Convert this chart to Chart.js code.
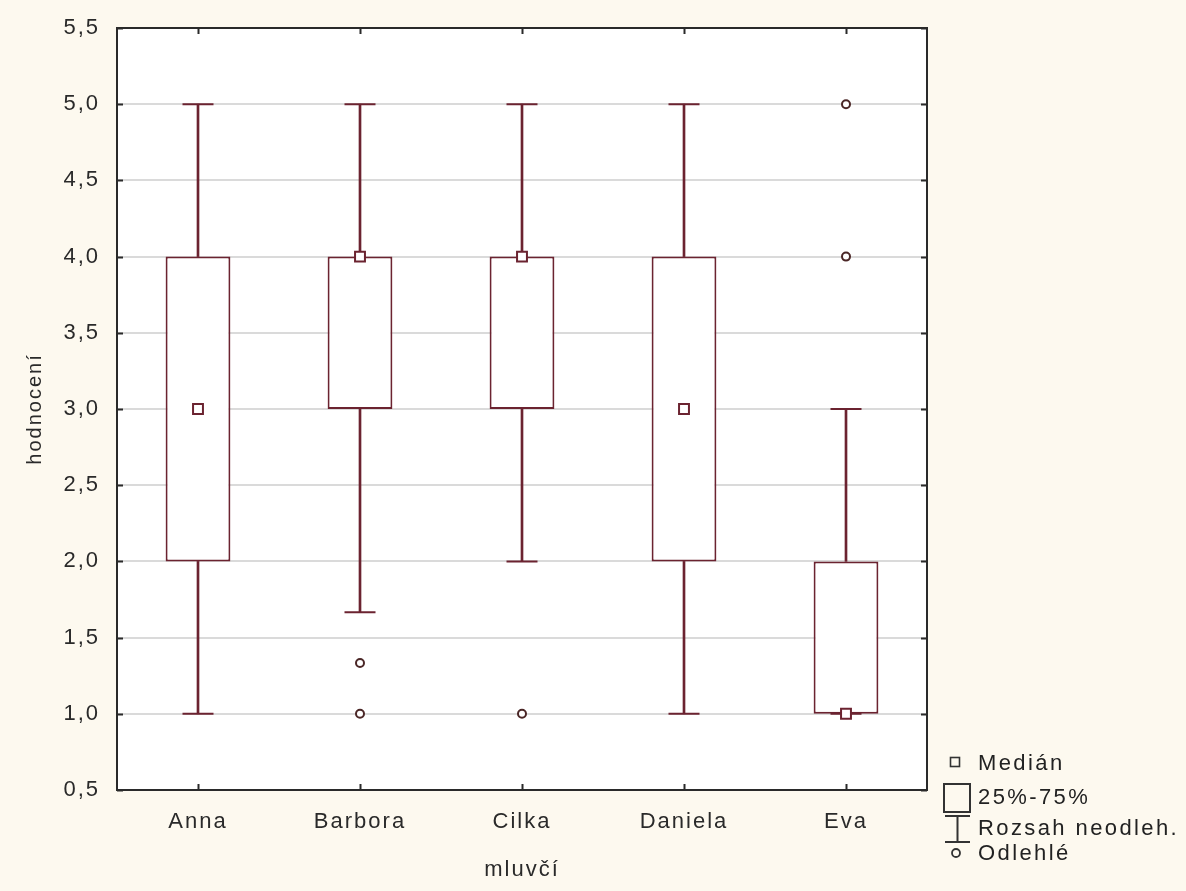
<!DOCTYPE html>
<html lang="cs">
<head>
<meta charset="UTF-8">
<title>hodnocení podle mluvčího</title>
<script src="https://cdn.jsdelivr.net/npm/chart.js"></script>
<style>
    body { margin: 0; background: #fdf9ef; }
    .wrap { position: relative; width: 1186px; height: 891px; }
    .legend span {
        position: absolute; left: 978px; height: 26px; line-height: 26px;
        font-family: "Liberation Sans", Arial, sans-serif; font-size: 22px;
        color: #222; letter-spacing: 2.4px; white-space: nowrap;
    }
    .legend svg { position: absolute; left: 940px; top: 745px; }
</style>
</head>
<body>
<div class="wrap">
    <canvas id="chart"></canvas>
    <div class="legend">
        <svg width="40" height="120">
            <rect x="10.5" y="12.5" width="9" height="9" fill="none" stroke="#333" stroke-width="1.6"/>
            <rect x="4" y="39" width="26" height="28" fill="none" stroke="#333" stroke-width="2"/>
            <path d="M5 71 H30 M17.5 71 V97 M5 97 H30" fill="none" stroke="#333" stroke-width="2"/>
            <circle cx="16" cy="108" r="4" fill="none" stroke="#333" stroke-width="1.8"/>
        </svg>
        <span style="top:750px">Medián</span>
        <span style="top:784px">25%-75%</span>
        <span style="top:815px">Rozsah neodleh.</span>
        <span style="top:840px">Odlehlé</span>
    </div>
</div>
<script>
    // data
    const categories = ['Anna', 'Barbora', 'Cilka', 'Daniela', 'Eva'];
    const whiskerLow = [1, 1.667, 2, 1, 1];
    const q1 = [2, 3, 3, 2, 1];
    const median = [3, 4, 4, 3, 1];
    const q3 = [4, 4, 4, 4, 2];
    const whiskerHigh = [5, 5, 5, 5, 3];
    const outliers = [[], [1.333, 1], [1], [], [4, 5]];
    const yTicks = [0.5, 1, 1.5, 2, 2.5, 3, 3.5, 4, 4.5, 5, 5.5];

    const boxColor = '#6b2330';
    const font = { family: '"Liberation Sans", Arial, sans-serif', size: 22 };
    const yTickFont = { family: '"Liberation Sans", Arial, sans-serif', size: 22, lineHeight: 1 };
    const titleFont = { family: '"Liberation Sans", Arial, sans-serif', size: 20 };

    const outlierPoints = [];
    outliers.forEach((vals, i) => vals.forEach(v => outlierPoints.push({ x: categories[i], y: v })));
    const capPoints = [];
    categories.forEach((c, i) => {
        capPoints.push({ x: c, y: whiskerLow[i] });
        capPoints.push({ x: c, y: whiskerHigh[i] });
    });

    // the original uses widely spaced lettering
    const spacingPlugin = {
        id: 'spacing',
        beforeUpdate(chart) { chart.ctx.letterSpacing = '2px'; },
        beforeDraw(chart) { chart.ctx.letterSpacing = '2px'; }
    };

    // white plot area + dark frame with inward ticks
    const framePlugin = {
        id: 'frame',
        beforeDraw(chart) {
            const a = chart.chartArea, ctx = chart.ctx;
            ctx.save();
            ctx.fillStyle = '#ffffff';
            ctx.fillRect(a.left, a.top, a.right - a.left, a.bottom - a.top);
            ctx.restore();
        },
        afterDraw(chart) {
            const a = chart.chartArea, ctx = chart.ctx;
            const y = chart.scales.y, x = chart.scales.x;
            ctx.save();
            ctx.strokeStyle = '#2a2a2a';
            ctx.lineWidth = 2;
            ctx.strokeRect(a.left, a.top, a.right - a.left, a.bottom - a.top);
            ctx.beginPath();
            yTicks.forEach(v => {
                const py = Math.round(y.getPixelForValue(v)) + 0.5;
                ctx.moveTo(a.left, py); ctx.lineTo(a.left + 6, py);
                ctx.moveTo(a.right, py); ctx.lineTo(a.right - 6, py);
            });
            categories.forEach((c, i) => {
                const px = Math.round(x.getPixelForValue(i)) + 0.5;
                ctx.moveTo(px, a.bottom); ctx.lineTo(px, a.bottom - 6);
                ctx.moveTo(px, a.top); ctx.lineTo(px, a.top + 6);
            });
            ctx.stroke();
            ctx.restore();
        }
    };

    new Chart(document.getElementById('chart'), {
        data: {
            labels: categories,
            datasets: [
                {
                    type: 'line', label: 'Medián', order: 0,
                    data: median, showLine: false,
                    pointStyle: 'rect', pointRadius: 7, pointHoverRadius: 7,
                    pointBackgroundColor: '#ffffff', pointBorderColor: boxColor, pointBorderWidth: 2
                },
                {
                    type: 'line', label: 'Odlehlé', order: 0,
                    data: outlierPoints, showLine: false,
                    pointStyle: 'circle', pointRadius: 4, pointHoverRadius: 4,
                    pointBackgroundColor: '#ffffff', pointBorderColor: '#4a2626', pointBorderWidth: 2
                },
                {
                    type: 'line', label: 'caps', order: 1,
                    data: capPoints, showLine: false,
                    pointStyle: 'line', pointRadius: 15.5, pointHoverRadius: 15.5,
                    pointBorderColor: boxColor, pointBorderWidth: 2
                },
                {
                    type: 'bar', label: '25%-75%', order: 2, grouped: false,
                    data: categories.map((c, i) => [q1[i], q3[i]]),
                    backgroundColor: '#ffffff', borderColor: boxColor, borderWidth: 2,
                    borderSkipped: false, barPercentage: 0.4, categoryPercentage: 1
                },
                {
                    type: 'bar', label: 'low', order: 3, grouped: false,
                    data: categories.map((c, i) => [whiskerLow[i], q1[i]]),
                    backgroundColor: boxColor, barThickness: 2
                },
                {
                    type: 'bar', label: 'high', order: 3, grouped: false,
                    data: categories.map((c, i) => [q3[i], whiskerHigh[i]]),
                    backgroundColor: boxColor, barThickness: 2
                }
            ]
        },
        options: {
            responsive: true,
            maintainAspectRatio: false,
            animation: false,
            layout: { padding: { left: 0, right: 259, top: 21, bottom: 0 } },
            plugins: { legend: { display: false }, tooltip: { enabled: false } },
            scales: {
                x: {
                    type: 'category',
                    offset: true,
                    grid: { display: false, drawTicks: false },
                    border: { display: false },
                    ticks: { color: '#2a2a2a', font: font, padding: 19 },
                    title: { display: true, text: 'mluvčí', color: '#2a2a2a', font: font, padding: { top: 10, bottom: 8 } },
                    afterFit(s) { s.height = 101; }
                },
                y: {
                    min: 0.5, max: 5.5,
                    afterBuildTicks(s) { s.ticks = yTicks.map(v => ({ value: v })); },
                    grid: { color: '#dadada', lineWidth: 2, drawTicks: false },
                    border: { display: false },
                    ticks: {
                        color: '#2a2a2a', font: yTickFont, padding: 17,
                        callback: v => v.toFixed(1).replace('.', ',')
                    },
                    title: { display: true, text: 'hodnocení', color: '#2a2a2a', font: titleFont, padding: { top: 23 } },
                    afterFit(s) { s.width = 117; }
                }
            }
        },
        plugins: [spacingPlugin, framePlugin]
    });
</script>
</body>
</html>
